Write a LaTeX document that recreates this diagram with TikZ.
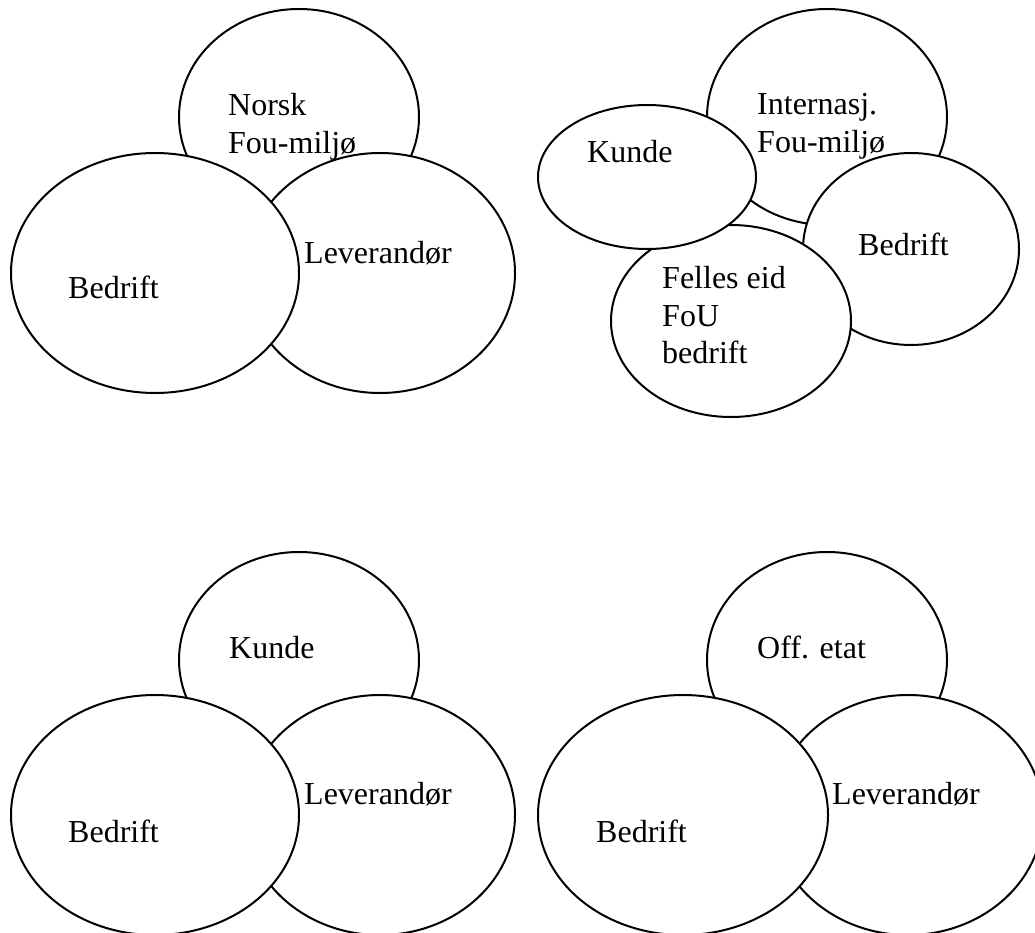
\documentclass[tikz,border=0pt]{standalone}
\usepackage{fontspec}
\setmainfont{Liberation Serif}
\usetikzlibrary{shapes.geometric}
\tikzset{
  blob/.style={draw,ellipse,fill=white,line width=2pt,inner sep=0pt},
  lbl/.style={inner sep=0pt,align=left,font=\fontsize{32}{37.7}\selectfont}
}
\begin{document}
\begin{tikzpicture}[x=1pt,y=-1pt]
  \useasboundingbox (0,0) rectangle (1035,933);
  \clip (0,0) rectangle (1035,933);
  % top left
  \node[blob,minimum width=240pt,minimum height=216pt] (norsk) at (299,117) {};
  \node[blob,minimum width=270pt,minimum height=240pt] (levA) at (380,273) {};
  \node[blob,minimum width=288pt,minimum height=240pt] (bedA) at (155,273) {};
  \node[lbl,anchor=north west] (norskT) at (228,93) {Norsk\\Fou-miljø};
  \node[lbl,anchor=base west] (levAT) at (304,263) {Leverandør};
  \node[lbl,anchor=base west] (bedAT) at (68,298) {Bedrift};
  % top right
  \node[blob,minimum width=240pt,minimum height=216pt] (intern) at (827,117) {};
  \node[blob,minimum width=216pt,minimum height=192pt] (bedB) at (911,249) {};
  \node[blob,minimum width=240pt,minimum height=192pt] (felles) at (731,321) {};
  \node[blob,minimum width=218pt,minimum height=144pt] (kundeB) at (647,177) {};
  \node[lbl,anchor=north west] (internT) at (757,93) {Internasj.\\Fou-miljø};
  \node[lbl,anchor=base west] (kundeBT) at (587,163) {Kunde};
  \node[lbl,anchor=base west] (bedBT) at (858,255) {Bedrift};
  \node[lbl,anchor=north west] (fellesT) at (662,266) {Felles eid\\FoU\\bedrift};
  % bottom left
  \node[blob,minimum width=240pt,minimum height=216pt] (kundeC) at (299,660) {};
  \node[blob,minimum width=270pt,minimum height=240pt] (levC) at (380,815) {};
  \node[blob,minimum width=288pt,minimum height=240pt] (bedC) at (155,815) {};
  \node[lbl,anchor=base west] (kundeCT) at (229,658) {Kunde};
  \node[lbl,anchor=base west] (levCT) at (304,804) {Leverandør};
  \node[lbl,anchor=base west] (bedCT) at (68,842) {Bedrift};
  % bottom right
  \node[blob,minimum width=240pt,minimum height=216pt] (offetat) at (827,660) {};
  \node[blob,minimum width=270pt,minimum height=240pt] (levD) at (908,815) {};
  \node[blob,minimum width=290pt,minimum height=240pt] (bedD) at (683,815) {};
  \node[lbl,anchor=base west] (offetatT) at (757,658) {Off. etat};
  \node[lbl,anchor=base west] (levDT) at (832,804) {Leverandør};
  \node[lbl,anchor=base west] (bedDT) at (596,842) {Bedrift};
\end{tikzpicture}
\end{document}
